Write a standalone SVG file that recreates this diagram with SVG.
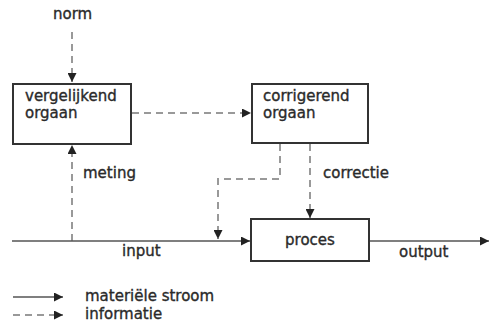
<svg xmlns="http://www.w3.org/2000/svg" width="489" height="325" viewBox="0 0 489 325">
<defs>
<marker id="ah" viewBox="0 0 10 10" refX="10" refY="5" markerWidth="9" markerHeight="9" markerUnits="userSpaceOnUse" orient="auto">
<path d="M0,0 L10,5 L0,10 Z" fill="#222"/>
</marker>
<style>
.box{fill:#fff;stroke:#333;stroke-width:2}
.t{font-family:"DejaVu Sans",sans-serif;font-size:15px;fill:#2a2a2a;stroke:#2a2a2a;stroke-width:0.35}
.mat{fill:none;stroke:#555;stroke-width:1.5}
.inf{fill:none;stroke:#999;stroke-width:2;stroke-dasharray:7 5}
</style>
</defs>
<rect width="489" height="325" fill="#fff"/>
<g id="connectors">
<path class="inf" d="M72,32 V82" marker-end="url(#ah)"/>
<path class="inf" d="M72,241 V145" marker-end="url(#ah)"/>
<path class="inf" d="M132,113 H251" marker-end="url(#ah)"/>
<path class="inf" d="M280,144 V179 H218 V239" marker-end="url(#ah)"/>
<path class="inf" d="M310,144 V218" marker-end="url(#ah)"/>
<path class="mat" d="M12,241 H250" marker-end="url(#ah)"/>
<path class="mat" d="M370,241 H489" marker-end="url(#ah)"/>
</g>
<g id="vergelijkend-orgaan">
<rect class="box" x="13" y="84" width="118" height="60"/>
<text class="t" x="25" y="101">vergelijkend</text>
<text class="t" x="25" y="118">orgaan</text>
</g>
<g id="corrigerend-orgaan">
<rect class="box" x="252" y="84" width="116" height="59"/>
<text class="t" x="263" y="101">corrigerend</text>
<text class="t" x="263" y="118">orgaan</text>
</g>
<g id="proces">
<rect class="box" x="251" y="219" width="118" height="42"/>
<text class="t" x="310" y="245" text-anchor="middle">proces</text>
</g>
<g id="labels">
<text class="t" x="53" y="19">norm</text>
<text class="t" x="83" y="178">meting</text>
<text class="t" x="323" y="178">correctie</text>
<text class="t" x="122" y="256">input</text>
<text class="t" x="399" y="257">output</text>
</g>
<g id="legend">
<path class="mat" d="M13,297 H63" marker-end="url(#ah)"/>
<path class="inf" d="M13,315 H63" marker-end="url(#ah)"/>
<text class="t" x="85" y="301">materiële stroom</text>
<text class="t" x="85" y="319">informatie</text>
</g>
</svg>
